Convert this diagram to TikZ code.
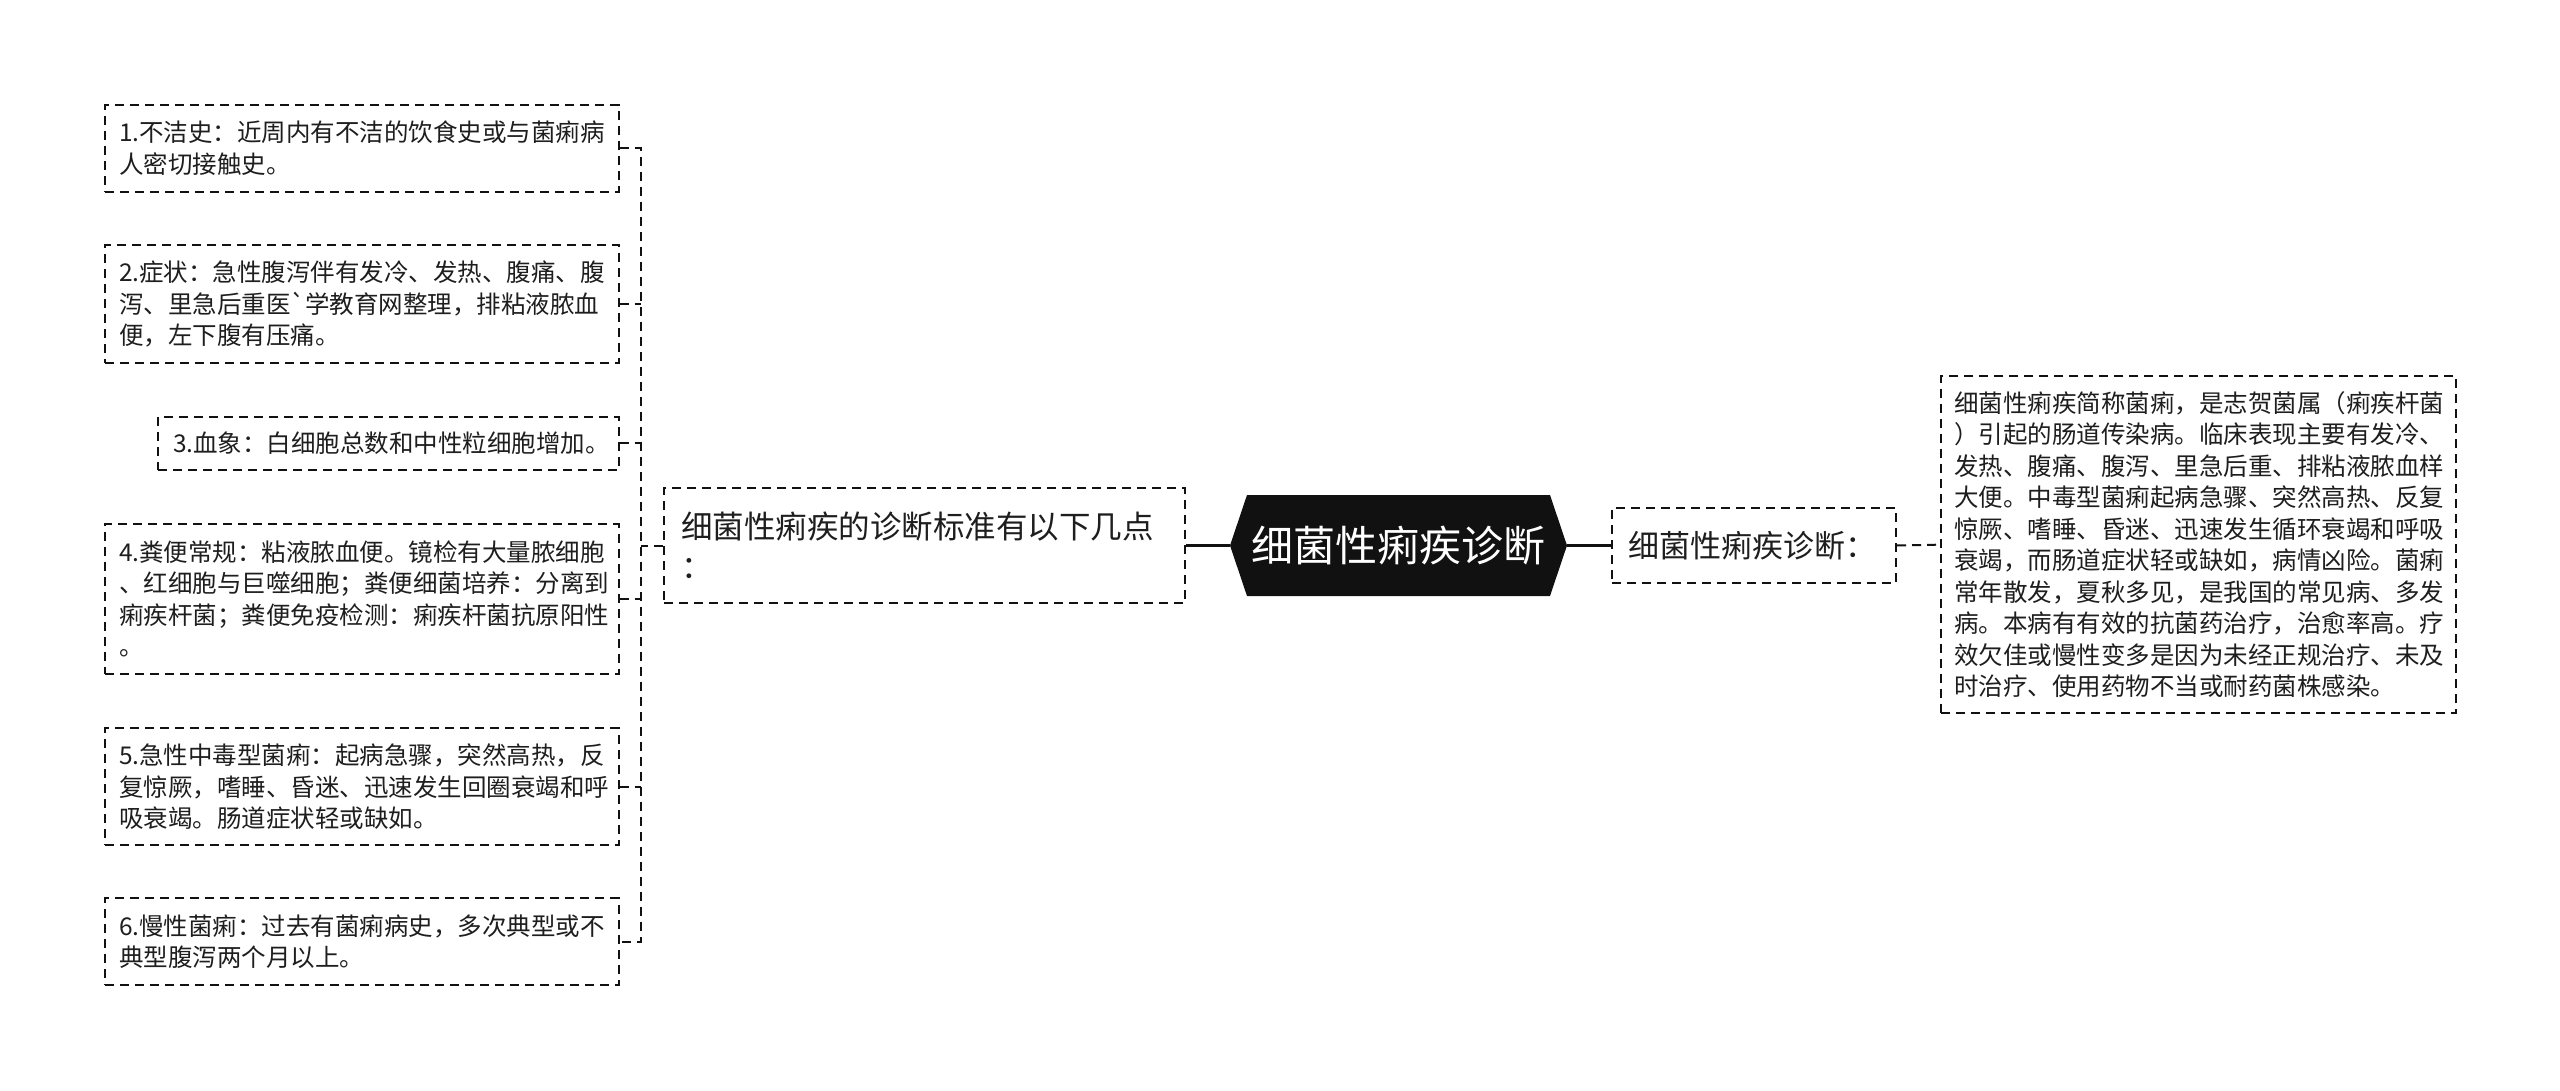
\documentclass[tikz,border=0pt]{standalone}
\usepackage{fontspec}
\newfontfamily\cjk{Noto Sans CJK SC}
\usetikzlibrary{calc}
\definecolor{txt}{HTML}{1E1E1E}
\definecolor{ink}{HTML}{111111}
\begin{document}
\begin{tikzpicture}[x=1pt,y=-1pt,
  dashbox/.style={draw=ink, line width=2pt, dash pattern=on 9pt off 6pt, inner xsep=14pt, inner ysep=0pt, align=left, text=txt, font=\cjk\fontsize{24.5}{31.5}\selectfont},
  midbox/.style={dashbox, font=\cjk\fontsize{31.5}{40}\selectfont, inner xsep=17pt},
  dashlink/.style={draw=ink, line width=2pt, dash pattern=on 9pt off 6pt},
  solidlink/.style={draw=ink, line width=3pt},
  rootnode/.style={minimum width=337, minimum height=101, inner sep=0pt, text=white, align=center,
    font=\cjk\fontsize{42}{50}\selectfont,
    path picture={\fill[ink] (path picture bounding box.west)
      -- ($(path picture bounding box.north west)+(17,0)$)
      -- ($(path picture bounding box.north east)+(-17,0)$)
      -- (path picture bounding box.east)
      -- ($(path picture bounding box.south east)+(-17,0)$)
      -- ($(path picture bounding box.south west)+(17,0)$) -- cycle;}}
]
\fill[white] (0,0) rectangle (2560,1091);
\useasboundingbox (0,0) rectangle (2560,1091);

% left leaves
\node[dashbox, minimum width=513.6, minimum height=86.7, text width=485.6] (b1) at (361.8,148.35)
  {1.不洁史：近周内有不洁的饮食史或与菌痢病\\人密切接触史。};
\node[dashbox, minimum width=513.6, minimum height=118.3, text width=485.6] (b2) at (361.8,304.15)
  {2.症状：急性腹泻伴有发冷、发热、腹痛、腹\\泻、里急后重医`学教育网整理，排粘液脓血\\便，左下腹有压痛。};
\node[dashbox, minimum width=460.6, minimum height=53.3, text width=430.6, inner xsep=15pt] (b3) at (388.3,443.35)
  {3.血象：白细胞总数和中性粒细胞增加。};
\node[dashbox, minimum width=513.6, minimum height=150, text width=485.6] (b4) at (361.8,599)
  {4.粪便常规：粘液脓血便。镜检有大量脓细胞\\、红细胞与巨噬细胞；粪便细菌培养：分离到\\痢疾杆菌；粪便免疫检测：痢疾杆菌抗原阳性\\。};
\node[dashbox, minimum width=513.6, minimum height=116.7, text width=485.6] (b5) at (361.8,786.65)
  {5.急性中毒型菌痢：起病急骤，突然高热，反\\复惊厥，嗜睡、昏迷、迅速发生回圈衰竭和呼\\吸衰竭。肠道症状轻或缺如。};
\node[dashbox, minimum width=513.6, minimum height=86.7, text width=485.6] (b6) at (361.8,941.65)
  {6.慢性菌痢：过去有菌痢病史，多次典型或不\\典型腹泻两个月以上。};

% middle
\node[midbox, minimum width=521, minimum height=115, text width=487] (mid) at (924.5,545.5)
  {细菌性痢疾的诊断标准有以下几点\\：};
\node[rootnode] (root) at (1398.5,545.5) {细菌性痢疾诊断};
\node[midbox, font=\cjk\fontsize{31}{40}\selectfont, inner xsep=16pt, minimum width=284, minimum height=75, text width=252] (small) at (1754,545.5)
  {细菌性痢疾诊断：};
\node[dashbox, inner xsep=13pt, minimum width=515, minimum height=337.3, text width=489] (big) at (2198.5,544.65)
  {细菌性痢疾简称菌痢，是志贺菌属（痢疾杆菌\\）引起的肠道传染病。临床表现主要有发冷、\\发热、腹痛、腹泻、里急后重、排粘液脓血样\\大便。中毒型菌痢起病急骤、突然高热、反复\\惊厥、嗜睡、昏迷、迅速发生循环衰竭和呼吸\\衰竭，而肠道症状轻或缺如，病情凶险。菌痢\\常年散发，夏秋多见，是我国的常见病、多发\\病。本病有有效的抗菌药治疗，治愈率高。疗\\效欠佳或慢性变多是因为未经正规治疗、未及\\时治疗、使用药物不当或耐药菌株感染。};

% connectors
\draw[solidlink] (mid.east) -- (root.west);
\draw[solidlink] (root.east) -- (small.west);
\draw[dashlink] (small.east) -- (big.west);

\coordinate (bx) at (641,545.5);
\draw[dashlink] (mid.west) -- (mid.west -| bx);
\draw[dashlink] (b1.east) -- (b1.east -| bx) -- (b6.east -| bx) -- (b6.east);
\foreach \k in {2,...,5} \draw[dashlink] (b\k.east) -- (b\k.east -| bx);
\end{tikzpicture}
\end{document}
